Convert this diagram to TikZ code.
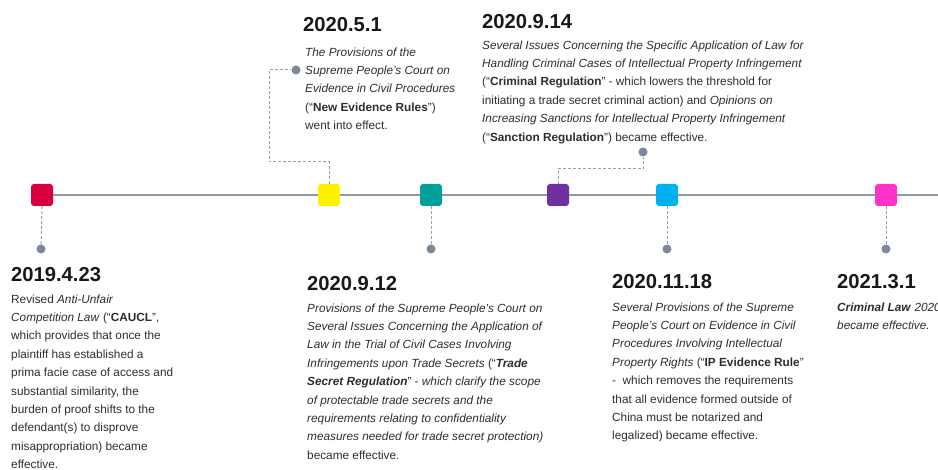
\documentclass[tikz,border=0pt]{standalone}
\usepackage{fontspec}
\setmainfont{Liberation Sans}
\definecolor{cRed}{HTML}{D6003F}
\definecolor{cYellow}{HTML}{FFF200}
\definecolor{cTeal}{HTML}{00A19A}
\definecolor{cPurple}{HTML}{7030A0}
\definecolor{cBlue}{HTML}{00B0F0}
\definecolor{cPink}{HTML}{FF33CC}
\definecolor{axisgray}{HTML}{8E9AA6}
\definecolor{dotgray}{HTML}{7D8898}
\definecolor{dashgray}{HTML}{9AA0A8}
\definecolor{bodytext}{HTML}{2E2E2E}
\begin{document}
\begin{tikzpicture}[x=1pt,y=-1pt,
  sq/.style={rectangle,rounded corners=3pt,minimum size=22pt,inner sep=0pt,draw=none},
  pin/.style={circle,fill=dotgray,minimum size=9pt,inner sep=0pt},
  axis/.style={draw=axisgray,line width=2pt},
  lead/.style={draw=dashgray,line width=1pt,dash pattern=on 3pt off 2pt},
  datetitle/.style={anchor=base west,inner sep=0pt,font=\fontsize{20.2}{24}\selectfont\bfseries,text=black!90},
  bodybox/.style={anchor=north west,inner sep=0pt,align=left,text=bodytext,font=\fontsize{11.8}{18.4}\selectfont}
]
\clip (0,0) rectangle (938,470);
\fill[white] (0,0) rectangle (938,470);

% squares on the axis
\node[sq,fill=cRed]    (s1) at (42,195) {};
\node[sq,fill=cYellow] (s2) at (329,195) {};
\node[sq,fill=cTeal]   (s3) at (431,195) {};
\node[sq,fill=cPurple] (s4) at (558,195) {};
\node[sq,fill=cBlue]   (s5) at (667,195) {};
\node[sq,fill=cPink]   (s6) at (886,195) {};
\coordinate (axend) at (938,195);
\draw[axis] (s1) -- (s2) -- (s3) -- (s4) -- (s5) -- (s6) -- (axend);

% pins
\node[pin] (d1) at (41,249) {};
\node[pin] (d2) at (296,70) {};
\node[pin] (d3) at (431,249) {};
\node[pin] (d4) at (643,152) {};
\node[pin] (d5) at (667,249) {};
\node[pin] (d6) at (886,249) {};

% leaders
\draw[lead] (s1.south) -- (d1);
\draw[lead] (s2.north) |- (269,162) |- (d2);
\draw[lead] (s3.south) -- (d3);
\draw[lead] (s4.north) |- (643,169) -- (d4);
\draw[lead] (s5.south) -- (d5);
\draw[lead] (s6.south) -- (d6);

% titles
\node[datetitle] (t1) at (11,282) {2019.4.23};
\node[datetitle] (t2) at (303,32) {2020.5.1};
\node[datetitle] (t3) at (482,29) {2020.9.14};
\node[datetitle] (t4) at (307,291) {2020.9.12};
\node[datetitle] (t5) at (612,289) {2020.11.18};
\node[datetitle] (t6) at (837,289) {2021.3.1};

% bodies
\node[bodybox] (b1) at (11,294.4) {Revised \textit{Anti-Unfair}\\
\textit{Competition Law} (“\textbf{CAUCL}”,\\
which provides that once the\\
plaintiff has established a\\
prima facie case of access and\\
substantial similarity, the\\
burden of proof shifts to the\\
defendant(s) to disprove\\
misappropriation) became\\
effective.};

\node[bodybox] (b2) at (305,47.4) {\textit{The Provisions of the}\\
\textit{Supreme People’s Court on}\\
\textit{Evidence in Civil Procedures}\\
(“\textbf{New Evidence Rules}”)\\
went into effect.};

\node[bodybox] (b3) at (482,40.4) {\textit{Several Issues Concerning the Specific Application of Law for}\\
\textit{Handling Criminal Cases of Intellectual Property Infringement}\\
(“\textbf{Criminal Regulation}” - which lowers the threshold for\\
initiating a trade secret criminal action) and \textit{Opinions on}\\
\textit{Increasing Sanctions for Intellectual Property Infringement}\\
(“\textbf{Sanction Regulation}”) became effective.};

\node[bodybox] (b4) at (307,303.4) {\textit{Provisions of the Supreme People’s Court on}\\
\textit{Several Issues Concerning the Application of}\\
\textit{Law in the Trial of Civil Cases Involving}\\
\textit{Infringements upon Trade Secrets} (“\textbf{\textit{Trade}}\\
\textbf{\textit{Secret Regulation}}” - \textit{which clarify the scope}\\
\textit{of protectable trade secrets and the}\\
\textit{requirements relating to confidentiality}\\
\textit{measures needed for trade secret protection)}\\
became effective.};

\node[bodybox] (b5) at (612,302.4) {\textit{Several Provisions of the Supreme}\\
\textit{People’s Court on Evidence in Civil}\\
\textit{Procedures Involving Intellectual}\\
\textit{Property Rights} (“\textbf{IP Evidence Rule}”\\
-\ \ which removes the requirements\\
that all evidence formed outside of\\
China must be notarized and\\
legalized) became effective.};

\node[bodybox] (b6) at (837,302.4) {\textbf{\textit{Criminal Law}} \textit{2020}\\
\textit{became effective.}};
\end{tikzpicture}
\end{document}
